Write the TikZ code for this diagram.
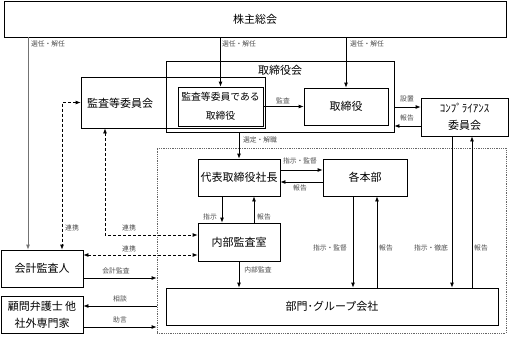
\documentclass[tikz,border=0pt]{standalone}
\usepackage{fontspec}
\setmainfont{Noto Sans CJK JP}
\usetikzlibrary{arrows.meta}
\begin{document}
\begin{tikzpicture}[x=1pt,y=-1pt,
  box/.style={draw, line width=0.8pt, inner sep=0pt, align=center, font=\fontsize{11}{17}\selectfont},
  big/.style={inner sep=0pt, font=\fontsize{11}{13}\selectfont},
  lbl/.style={inner sep=0pt, text=black!70, font=\fontsize{6.8}{8}\selectfont},
  arr/.style={line width=0.8pt, -{Latex[length=5pt,width=4pt]}},
  darr/.style={line width=0.8pt, dashed, dash pattern=on 3pt off 2pt, {Latex[length=5pt,width=4pt]}-{Latex[length=5pt,width=4pt]}}]
\useasboundingbox (0,0) rectangle (510,345);
% boxes
\node[box, minimum width=502pt, minimum height=36pt] (sh) at (255,19) {株主総会};
\node[box, minimum width=184pt, minimum height=51pt] (kansa) at (173,102.5) {};
\node[big] (kansatxt) at (120,103) {監査等委員会};
\node[box, minimum width=228pt, minimum height=71pt] (tb) at (280,96.5) {};
\node[big] (tbtxt) at (280,70) {取締役会};
\node[box, minimum width=85pt, minimum height=39pt, font=\fontsize{9.8}{19}\selectfont] (inner) at (220.5,106.5) {監査等委員である\\取締役};
\node[box, minimum width=84pt, minimum height=37pt] (tori) at (346,106.5) {取締役};
\node[box, minimum width=87pt, minimum height=38pt] (comp) at (464.5,117) {ｺﾝﾌﾟﾗｲｱﾝｽ\\委員会};
\node[draw=black!60, densely dotted, line width=0.8pt, minimum width=349pt, minimum height=185pt, inner sep=0pt] (dotbox) at (331.5,240.5) {};
\node[box, minimum width=82pt, minimum height=37pt] (daihyo) at (239,177.5) {代表取締役社長};
\node[box, minimum width=84pt, minimum height=37pt] (kakuhonbu) at (365,177.5) {各本部};
\node[box, minimum width=82pt, minimum height=38pt] (naibu) at (239,242) {内部監査室};
\node[box, minimum width=332pt, minimum height=37pt] (bumon) at (332,306.5) {部門･グループ会社};
\node[box, minimum width=82pt, minimum height=37pt] (kaikei) at (42,268.5) {会計監査人};
\node[box, minimum width=82pt, minimum height=37pt] (komon) at (42,314.5) {顧問弁護士 他\\社外専門家};
% helper coordinates
\coordinate (c28) at (28,0);
\coordinate (c62) at (62,0);
\coordinate (c105) at (105,0);
\coordinate (s1) at ([yshift=10pt]comp.west);
\coordinate (s2) at ([yshift=-9pt]comp.west);
\coordinate (d1) at ([yshift=7.5pt]kakuhonbu.west);
\coordinate (d2) at ([yshift=-4.5pt]kakuhonbu.west);
\coordinate (n1) at ([xshift=-17pt]daihyo.south);
\coordinate (n2) at ([xshift=15pt]daihyo.south);
\coordinate (k1) at ([xshift=-12pt]kakuhonbu.south);
\coordinate (k2) at ([xshift=12pt]kakuhonbu.south);
\coordinate (m1) at ([xshift=-12.5pt]comp.south);
\coordinate (m2) at ([xshift=7.5pt]comp.south);
\coordinate (a1) at ([yshift=-9.5pt]kaikei.east);
\coordinate (a2) at ([yshift=8.5pt]komon.east);
\coordinate (a3) at ([yshift=-12.5pt]komon.east);
\coordinate (r1) at ([yshift=13.5pt]kaikei.east);
\coordinate (r2) at ([yshift=7pt]naibu.west);
% connectors
\draw[arr, draw=black!55] (sh.south -| c28) -- (kaikei.north -| c28);
\draw[arr] (sh.south -| inner.north) -- (inner.north);
\draw[arr] (sh.south -| tori.north) -- (tori.north);
\draw[arr] (inner.east) -- (tori.west);
\draw[arr] (s1 -| tb.east) -- (s1);
\draw[arr] (s2) -- (s2 -| tb.east);
\draw[arr] (tb.south -| daihyo.north) -- (daihyo.north);
\draw[arr] (d1 -| daihyo.east) -- (d1);
\draw[arr] (d2) -- (d2 -| daihyo.east);
\draw[arr] (n1) -- (n1 |- naibu.north);
\draw[arr] (n2 |- naibu.north) -- (n2);
\draw[arr] (naibu.south) -- (naibu.south |- bumon.north);
\draw[arr] (k1) -- (k1 |- bumon.north);
\draw[arr] (k2 |- bumon.north) -- (k2);
\draw[arr] (m1) -- (m1 |- bumon.north);
\draw[arr] (m2 |- bumon.north) -- (m2);
\draw[arr] (a1) -- (a1 -| dotbox.west);
\draw[arr] (a2 -| dotbox.west) -- (a2);
\draw[arr] (a3) -- (a3 -| dotbox.west);
\draw[darr] (r1) -- (r1 -| naibu.west);
\draw[darr] (kansa.south -| c105) |- (r2);
\draw[darr] (kansa.west) -| (kaikei.north -| c62);
% labels
\node[lbl] at (48,44) {選任・解任};
\node[lbl] at (239,44) {選任・解任};
\node[lbl] at (367,44) {選任・解任};
\node[lbl] at (283,101) {監査};
\node[lbl] at (407,99) {設置};
\node[lbl] at (407,118) {報告};
\node[lbl] at (260,140) {選定・解職};
\node[lbl] at (300,161) {指示・監督};
\node[lbl] at (300,188) {報告};
\node[lbl] at (210,217) {指示};
\node[lbl] at (264,217) {報告};
\node[lbl] at (258,270) {内部監査};
\node[lbl] at (330,248) {指示・監督};
\node[lbl] at (386,248) {報告};
\node[lbl] at (431,248) {指示・徹底};
\node[lbl] at (481,248) {報告};
\node[lbl] at (116,271) {会計監査};
\node[lbl] at (120,299) {相談};
\node[lbl] at (120,320) {助言};
\node[lbl] at (72,228) {連携};
\node[lbl] at (129,228) {連携};
\node[lbl] at (129,249) {連携};
\end{tikzpicture}
\end{document}
